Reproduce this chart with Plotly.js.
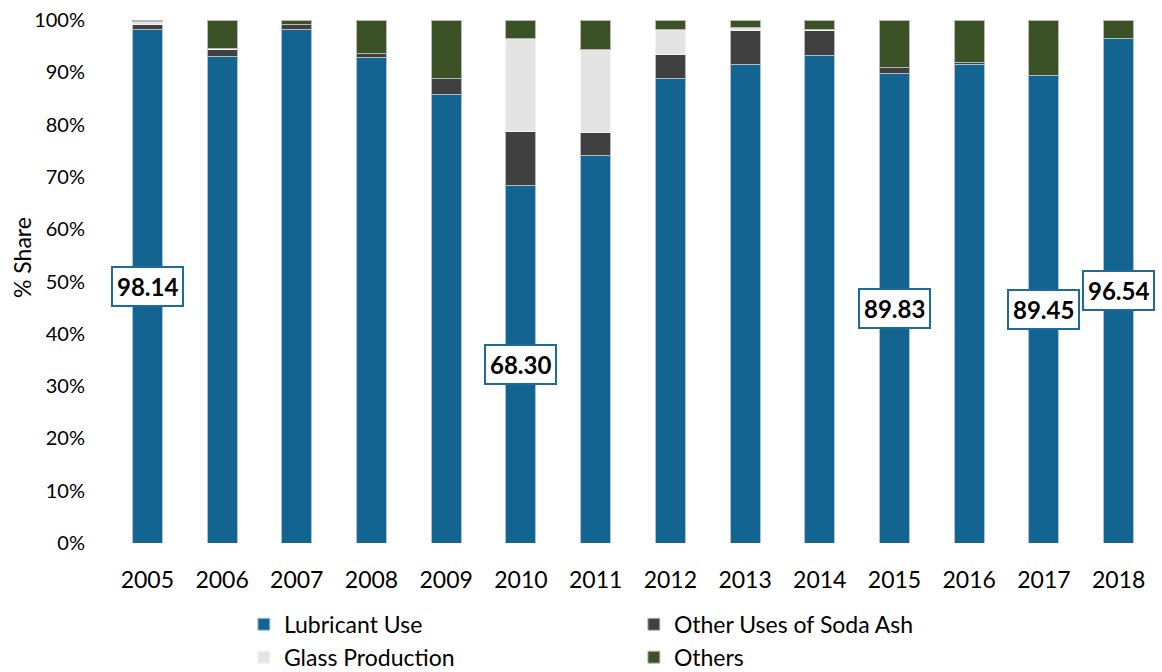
<!DOCTYPE html>
<html>
<head>
<meta charset="utf-8">
<script src="https://cdn.plot.ly/plotly-3.0.1.min.js"></script>
<style>html,body{margin:0;padding:0;background:#fff;}#chart{width:1162px;height:672px;}</style>
</head>
<body>
<div id="chart"></div>
<script>
const years = ['2005','2006','2007','2008','2009','2010','2011','2012','2013','2014','2015','2016','2017','2018'];
const lubricantUse = [98.14, 93.0, 98.2, 92.8, 85.7, 68.30, 74.1, 88.8, 91.5, 93.25, 89.83, 91.5, 89.45, 96.54];
const otherUsesSodaAsh = [1.0, 1.4, 1.0, 0.8, 3.2, 10.3, 4.3, 4.6, 6.5, 4.7, 1.0, 0.45, 0, 0];
const glassProduction = [0.5, 0.2, 0, 0, 0, 17.8, 15.9, 4.7, 0.66, 0.15, 0, 0, 0, 0];
const others = [0.36, 5.4, 0.8, 6.4, 11.1, 3.6, 5.7, 1.9, 1.34, 1.9, 9.17, 8.05, 10.55, 3.46];
const labelYears = ['2005','2010','2015','2017','2018'];
const yTickVals = [0,10,20,30,40,50,60,70,80,90,100];
const yTickText = ['0%','10%','20%','30%','40%','50%','60%','70%','80%','90%','100%'];

const edge = {color:'#b8b8b8', width:1};
const traces = [
  {name:'Lubricant Use', x:years, y:lubricantUse, type:'bar', marker:{color:'#136491', line:{color:'#a9c3d6', width:1}}},
  {name:'Other Uses of Soda Ash', x:years, y:otherUsesSodaAsh, type:'bar', marker:{color:'#404040', line:edge}},
  {name:'Glass Production', x:years, y:glassProduction, type:'bar', marker:{color:'#e4e4e4', line:{color:'#f4f4f4', width:1}}},
  {name:'Others', x:years, y:others, type:'bar', marker:{color:'#3b5226', line:edge}}
];

const annotations = labelYears.map(yr => {
  const i = years.indexOf(yr);
  const v = lubricantUse[i];
  return {
    x: i, y: v/2, xref:'x', yref:'y', text: v.toFixed(2), showarrow:false,
    font:{family:'Lato, sans-serif', size:24, color:'#000', weight:'bold'},
    bgcolor:'#fff', bordercolor:'#1f6a99', borderwidth:2, borderpad:4
  };
});
annotations.push({
  text:'% Share', textangle:-90, xref:'paper', yref:'paper', x:-0.0841, y:0.545,
  xanchor:'center', yanchor:'middle', showarrow:false,
  font:{family:'Lato, sans-serif', size:23, color:'#000'}
});

const layout = {
  width:1162, height:672,
  margin:{l:110, r:6, t:20, b:129},
  paper_bgcolor:'#fff', plot_bgcolor:'#fff',
  font:{family:'Lato, sans-serif', size:20, color:'#000'},
  barmode:'stack', bargap:0.6,
  showlegend:true,
  xaxis:{type:'category', range:[-0.5, 13.5], showgrid:false, showline:false, zeroline:false, ticks:'outside', ticklen:16, tickcolor:'rgba(0,0,0,0)', tickfont:{size:23}},
  yaxis:{range:[0,100], tickvals:yTickVals, ticktext:yTickText, showgrid:false, showline:false, zeroline:false, ticks:'outside', ticklen:20, tickcolor:'rgba(0,0,0,0)', tickfont:{size:20}},
  legend:{orientation:'h', xref:'paper', x:0.128, xanchor:'left', yref:'container', y:0.103, yanchor:'top', entrywidth:345, entrywidthmode:'pixels',
    font:{size:23}, traceorder:'normal', itemwidth:30, tracegroupgap:0},
  annotations: annotations
};

Plotly.newPlot('chart', traces, layout, {displayModeBar:false, staticPlot:true});
</script>
</body>
</html>
